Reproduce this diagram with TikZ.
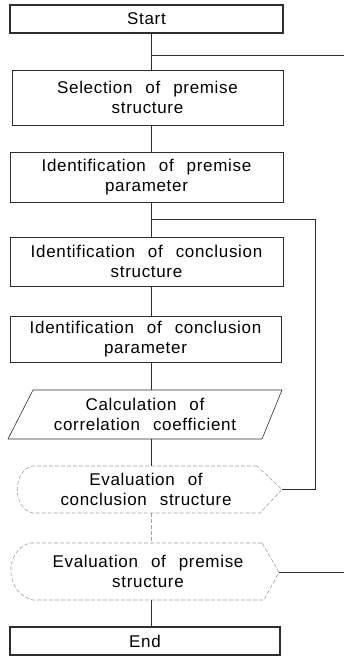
\documentclass[tikz,border=0pt]{standalone}
\usepackage{fontspec}
\setmainfont{Liberation Sans}[WordSpace=2.4,LetterSpace=4]
\usetikzlibrary{calc}
\definecolor{ink}{HTML}{2E2E2E}
\definecolor{faint}{HTML}{A0A0A0}
\tikzset{x=1pt,y=-1pt,
 txt/.style={align=center,inner sep=0pt,font=\fontsize{17}{20}\selectfont},
 box/.style={txt,draw=ink,line width=.6pt,minimum width=273pt},
 term/.style={box,line width=1.5pt,minimum height=28pt},
 link/.style={draw=ink,line width=.6pt},
 ghost/.style={draw=faint,line width=.6pt,dash pattern=on 4pt off 2pt}}
\begin{document}
\begin{tikzpicture}
\useasboundingbox (0,0) rectangle (344,656);
% main column
\node[term] (start) at (146.5,19) {Start};
\node[box,minimum width=271pt,minimum height=55pt] (sel) at (147.5,97.5) {Selection of premise\\structure};
\node[box,minimum height=50pt] (ipp) at (146.5,177.5) {Identification of premise\\parameter};
\node[box,minimum height=49pt] (ics) at (146.5,261.5) {Identification of conclusion\\structure};
\node[box,minimum width=271pt,minimum height=46pt] (icp) at (145.5,339) {Identification of conclusion\\parameter};
\node[txt,minimum height=49pt] (calc) at (145,414.5) {Calculation of\\correlation coefficient};
\draw[link] (33,390)--(282,390)--(262,439)--(8,439)--cycle;
\node[txt,minimum height=47pt] (evc) at (146,489.5) {Evaluation of\\conclusion structure};
\coordinate (evce) at (282,489.5);
\draw[ghost] (257,466)--(33,466) .. controls (12,470) and (12,509) .. (33,513)--(260,513)--(evce)--cycle;
\node[txt,minimum height=57pt] (evp) at (148,571.5) {Evaluation of premise\\structure};
\coordinate (evpe) at (279,572);
\draw[ghost] (262,543)--(30,543) .. controls (4,550) and (4,593) .. (33,600)--(264,600)--(evpe)--cycle;
\node[term,minimum width=270pt] (end) at (145,641) {End};
% connectors
\coordinate (sp) at (151,0);
\coordinate (j1) at (151,55);\coordinate (j2) at (151,219);
\draw[link] (start.south -| sp)--(sel.north -| sp);
\draw[link] (sel.south -| sp)--(ipp.north -| sp);
\draw[link] (ipp.south -| sp)--(ics.north -| sp);
\draw[link] (ics.south -| sp)--(icp.north -| sp);
\draw[link] (icp.south -| sp)--(calc.north -| sp);
\draw[link] (calc.south -| sp)--(evc.north -| sp);
\draw[ghost] (evc.south -| sp)--(evp.north -| sp);
\draw[link] (evp.south -| sp)--(end.north -| sp);
% loops back
\coordinate (inner) at (315,0);\coordinate (outer) at (346,0);
\draw[link] (evce)--(evce -| inner)--(j2 -| inner)--(j2);
\draw[link] (evpe)--(evpe -| outer)--(j1 -| outer)--(j1);
\end{tikzpicture}
\end{document}
